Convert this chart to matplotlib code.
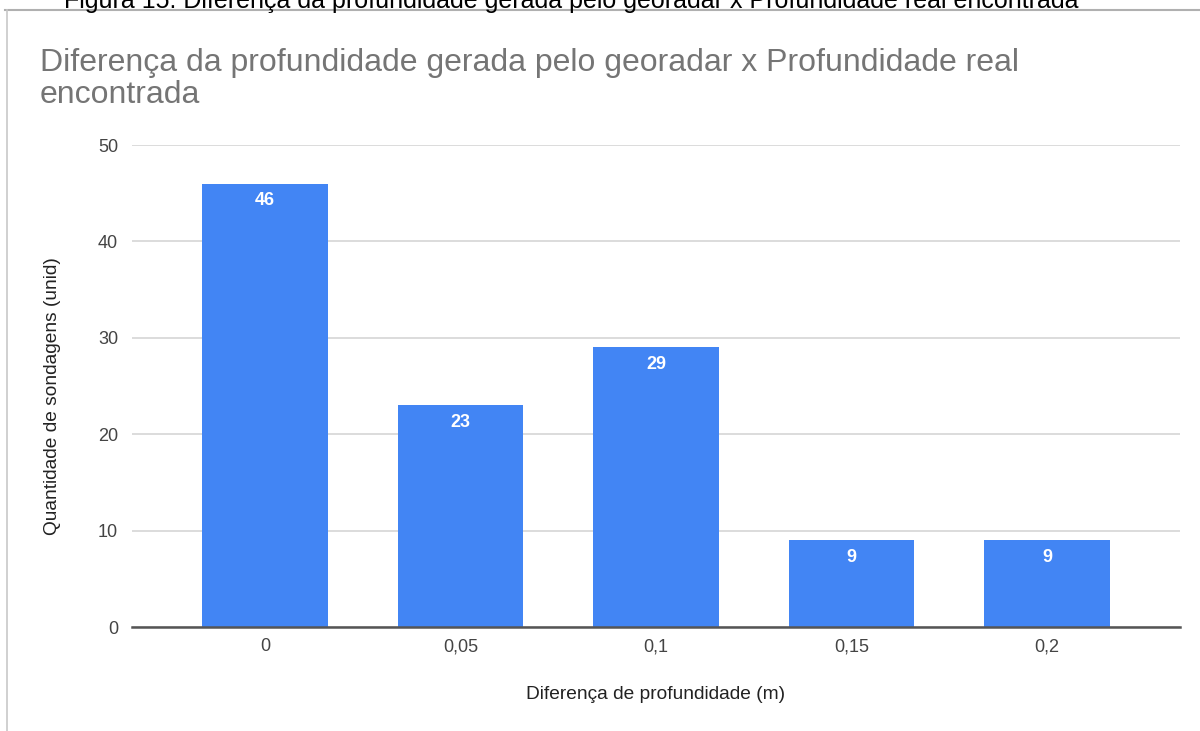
import matplotlib.pyplot as plt

plt.rcParams['font.family'] = ['Liberation Sans', 'DejaVu Sans']

categorias = ['0', '0,05', '0,1', '0,15', '0,2']
quantidades = [46, 23, 29, 9, 9]
yticks = [0, 10, 20, 30, 40, 50]

fig = plt.figure(figsize=(12, 7.31), dpi=100)

# legenda da figura (cortada no topo) e moldura
fig.text(571 / 1200, 1 - 8 / 731,
         'Figura 15: Diferença da profundidade gerada pelo georadar x Profundidade real encontrada',
         ha='center', va='baseline', fontsize=18, color='black')
fig.add_artist(plt.Line2D([5 / 1200, 1], [1 - 10 / 731] * 2, color='#b0b0b0', lw=1.5))
fig.add_artist(plt.Line2D([7 / 1200] * 2, [0, 1 - 10 / 731], color='#c8c8c8', lw=1.2))

fig.text(40 / 1200, 1 - 48 / 731,
         'Diferença da profundidade gerada pelo georadar x Profundidade real\nencontrada',
         ha='left', va='top', fontsize=23, color='#757575', linespacing=1.08)

ax = fig.add_axes([132 / 1200, 1 - 627 / 731, (1180 - 132) / 1200, (627 - 145) / 731])
x = range(len(categorias))
bars = ax.bar(x, quantidades, width=0.64, color='#4285f4', zorder=3)
for b, v in zip(bars, quantidades):
    ax.annotate(str(v), (b.get_x() + b.get_width() / 2, v), xytext=(0, -6),
                textcoords='offset points', ha='center', va='top',
                color='white', fontsize=13, fontweight='bold', zorder=4)

ax.set_xlim(-0.68, 4.68)
ax.set_ylim(0, 50)
ax.set_yticks(yticks)
ax.set_xticks(list(x))
ax.set_xticklabels(categorias)
ax.grid(axis='y', color='#d9d9d9', lw=1.3, zorder=0)
ax.tick_params(axis='both', length=0, labelsize=13, labelcolor='#444444')
ax.tick_params(axis='y', pad=10)
ax.tick_params(axis='x', pad=8)
for s in ['top', 'right', 'left']:
    ax.spines[s].set_visible(False)
ax.spines['bottom'].set_color('#555555')
ax.spines['bottom'].set_linewidth(1.8)
ax.spines['bottom'].set_zorder(5)

ax.set_xlabel('Diferença de profundidade (m)', fontsize=13.8, color='#222222', labelpad=22)
ax.set_ylabel('Quantidade de sondagens (unid)', fontsize=13.8, color='#222222')
ax.yaxis.set_label_coords(-0.068, 0.48)

fig.savefig('out.png', dpi=100)
